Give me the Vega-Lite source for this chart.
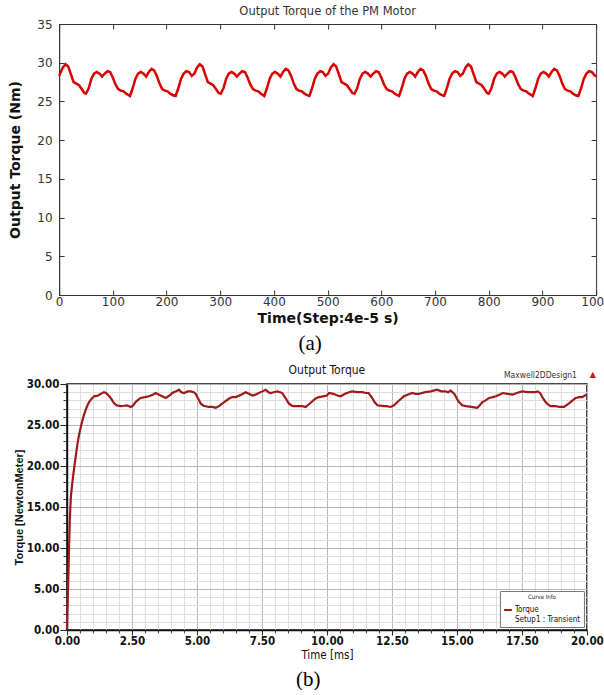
{
"$schema":"https://vega.github.io/schema/vega-lite/v6.json",
"background":"white",
"padding":{"left":8,"top":5,"right":0,"bottom":0},
"config":{"concat":{"spacing":9}},
"datasets":{
"a":[{"t":0,"v":28.3},{"t":2,"v":28.6},{"t":7,"v":29.4},{"t":12,"v":29.8},{"t":17,"v":29.5},{"t":22,"v":28.5},{"t":27,"v":27.5},{"t":32,"v":27.3},{"t":37,"v":27.1},{"t":42,"v":26.6},{"t":47,"v":26.1},
{"t":50,"v":26.0},{"t":55,"v":26.7},{"t":60,"v":27.9},{"t":65,"v":28.6},{"t":70,"v":28.8},{"t":75,"v":28.6},{"t":80,"v":28.2},{"t":85,"v":28.6},{"t":90,"v":28.9},{"t":95,"v":28.8},{"t":100,"v":28.1},{"t":105,"v":27.2},{"t":110,"v":26.6},{"t":115,"v":26.4},{"t":120,"v":26.3},{"t":125,"v":26.0},{"t":130,"v":25.8},
{"t":132,"v":25.7},{"t":137,"v":26.7},{"t":142,"v":27.9},{"t":147,"v":28.6},{"t":152,"v":28.8},{"t":157,"v":28.6},{"t":162,"v":28.2},{"t":167,"v":28.8},{"t":172,"v":29.2},{"t":177,"v":29.0},{"t":182,"v":28.3},{"t":187,"v":27.3},{"t":192,"v":26.6},{"t":197,"v":26.4},{"t":202,"v":26.3},{"t":207,"v":26.0},{"t":212,"v":25.8},
{"t":217,"v":25.7},{"t":222,"v":26.7},{"t":227,"v":27.9},{"t":232,"v":28.6},{"t":237,"v":28.9},{"t":242,"v":28.8},{"t":247,"v":28.3},{"t":252,"v":28.6},{"t":257,"v":29.4},{"t":262,"v":29.8},{"t":267,"v":29.5},{"t":272,"v":28.5},{"t":277,"v":27.5},{"t":282,"v":27.3},{"t":287,"v":27.1},{"t":292,"v":26.6},{"t":297,"v":26.1},
{"t":301,"v":26.0},{"t":306,"v":26.7},{"t":311,"v":27.9},{"t":316,"v":28.6},{"t":321,"v":28.8},{"t":326,"v":28.6},{"t":331,"v":28.2},{"t":336,"v":28.6},{"t":341,"v":28.9},{"t":346,"v":28.8},{"t":351,"v":28.1},{"t":356,"v":27.2},{"t":361,"v":26.6},{"t":366,"v":26.4},{"t":371,"v":26.3},{"t":376,"v":26.0},{"t":380,"v":25.8},
{"t":382,"v":25.7},{"t":387,"v":26.7},{"t":392,"v":27.9},{"t":397,"v":28.6},{"t":402,"v":28.8},{"t":407,"v":28.6},{"t":412,"v":28.2},{"t":417,"v":28.8},{"t":422,"v":29.2},{"t":427,"v":29.0},{"t":432,"v":28.3},{"t":437,"v":27.3},{"t":442,"v":26.6},{"t":447,"v":26.4},{"t":452,"v":26.3},{"t":457,"v":26.0},{"t":462,"v":25.8},
{"t":466,"v":25.7},{"t":471,"v":26.7},{"t":476,"v":27.9},{"t":481,"v":28.6},{"t":486,"v":28.9},{"t":491,"v":28.8},{"t":496,"v":28.3},{"t":501,"v":28.6},{"t":506,"v":29.4},{"t":511,"v":29.8},{"t":516,"v":29.5},{"t":521,"v":28.5},{"t":526,"v":27.5},{"t":531,"v":27.3},{"t":536,"v":27.1},{"t":541,"v":26.6},{"t":546,"v":26.1},
{"t":550,"v":26.0},{"t":555,"v":26.7},{"t":560,"v":27.9},{"t":565,"v":28.6},{"t":570,"v":28.8},{"t":575,"v":28.6},{"t":580,"v":28.2},{"t":585,"v":28.6},{"t":590,"v":28.9},{"t":595,"v":28.8},{"t":600,"v":28.1},{"t":605,"v":27.2},{"t":610,"v":26.6},{"t":615,"v":26.4},{"t":620,"v":26.3},{"t":625,"v":26.0},{"t":630,"v":25.8},
{"t":633,"v":25.7},{"t":638,"v":26.7},{"t":643,"v":27.9},{"t":648,"v":28.6},{"t":653,"v":28.8},{"t":658,"v":28.6},{"t":663,"v":28.2},{"t":668,"v":28.8},{"t":673,"v":29.2},{"t":678,"v":29.0},{"t":683,"v":28.3},{"t":688,"v":27.3},{"t":693,"v":26.6},{"t":698,"v":26.4},{"t":703,"v":26.3},{"t":708,"v":26.0},{"t":713,"v":25.8},
{"t":717,"v":25.7},{"t":722,"v":26.7},{"t":727,"v":27.9},{"t":732,"v":28.6},{"t":737,"v":28.9},{"t":742,"v":28.8},{"t":747,"v":28.3},{"t":752,"v":28.6},{"t":757,"v":29.4},{"t":762,"v":29.8},{"t":767,"v":29.5},{"t":772,"v":28.5},{"t":777,"v":27.5},{"t":782,"v":27.3},{"t":787,"v":27.1},{"t":792,"v":26.6},{"t":797,"v":26.1},
{"t":800,"v":26.0},{"t":805,"v":26.7},{"t":810,"v":27.9},{"t":815,"v":28.6},{"t":820,"v":28.8},{"t":825,"v":28.6},{"t":830,"v":28.2},{"t":835,"v":28.6},{"t":840,"v":28.9},{"t":845,"v":28.8},{"t":850,"v":28.1},{"t":855,"v":27.2},{"t":860,"v":26.6},{"t":865,"v":26.4},{"t":870,"v":26.3},{"t":875,"v":26.0},{"t":880,"v":25.8},
{"t":882,"v":25.7},{"t":887,"v":26.7},{"t":892,"v":27.9},{"t":897,"v":28.6},{"t":902,"v":28.8},{"t":907,"v":28.6},{"t":912,"v":28.2},{"t":917,"v":28.8},{"t":922,"v":29.2},{"t":927,"v":29.0},{"t":932,"v":28.3},{"t":937,"v":27.3},{"t":942,"v":26.6},{"t":947,"v":26.4},{"t":952,"v":26.3},{"t":957,"v":26.0},{"t":962,"v":25.8},
{"t":967,"v":25.7},{"t":972,"v":26.7},{"t":977,"v":27.9},{"t":982,"v":28.6},{"t":987,"v":28.9},{"t":992,"v":28.8},{"t":997,"v":28.4},{"t":1000,"v":28.2}],
"b":[{"t":0,"v":0},{"t":0.02,"v":2.5},{"t":0.05,"v":6},{"t":0.08,"v":10},{"t":0.11,"v":13.5},{"t":0.15,"v":16.2},{"t":0.2,"v":17.8},{"t":0.27,"v":19.6},{"t":0.33,"v":21},{"t":0.4,"v":22.6},{"t":0.46,"v":23.7},{"t":0.55,"v":25.0},{"t":0.65,"v":26.2},{"t":0.75,"v":27.1},{"t":0.85,"v":27.8},{"t":0.95,"v":28.2},{"t":1.05,"v":28.5},{"t":1.2,"v":28.6},{"t":1.3,"v":28.8},{"t":1.42,"v":29.0},{"t":1.5,"v":28.9},{"t":1.6,"v":28.6},{"t":1.7,"v":28.2},{"t":1.8,"v":27.7},{"t":1.9,"v":27.4},{"t":2.06,"v":27.3},{"t":2.2,"v":27.35},{"t":2.31,"v":27.4},{"t":2.45,"v":27.2},{"t":2.55,"v":27.4},{"t":2.64,"v":27.8},{"t":2.75,"v":28.1},{"t":2.83,"v":28.3},{"t":3.0,"v":28.4},{"t":3.15,"v":28.5},{"t":3.3,"v":28.7},{"t":3.41,"v":28.9},{"t":3.6,"v":28.6},{"t":3.8,"v":28.3},{"t":3.95,"v":28.6},{"t":4.05,"v":28.9},{"t":4.2,"v":29.1},{"t":4.31,"v":29.3},{"t":4.4,"v":29.0},{"t":4.5,"v":28.9},{"t":4.65,"v":29.1},{"t":4.76,"v":29.1},{"t":4.88,"v":29.0},{"t":4.95,"v":28.8},{"t":5.05,"v":28.2},{"t":5.15,"v":27.6},{"t":5.25,"v":27.35},{"t":5.46,"v":27.2},{"t":5.6,"v":27.2},{"t":5.72,"v":27.1},{"t":5.85,"v":27.3},{"t":5.97,"v":27.6},{"t":6.1,"v":27.9},{"t":6.23,"v":28.2},{"t":6.35,"v":28.4},{"t":6.49,"v":28.4},{"t":6.7,"v":28.7},{"t":6.87,"v":29.0},{"t":7.0,"v":28.8},{"t":7.13,"v":28.6},{"t":7.25,"v":28.7},{"t":7.38,"v":28.9},{"t":7.52,"v":29.1},{"t":7.64,"v":29.3},{"t":7.75,"v":29.0},{"t":7.83,"v":28.9},{"t":7.95,"v":29.0},{"t":8.09,"v":29.1},{"t":8.2,"v":29.0},{"t":8.28,"v":28.9},{"t":8.4,"v":28.3},{"t":8.54,"v":27.6},{"t":8.65,"v":27.35},{"t":8.73,"v":27.3},{"t":8.9,"v":27.3},{"t":9.05,"v":27.3},{"t":9.18,"v":27.2},{"t":9.3,"v":27.5},{"t":9.44,"v":27.9},{"t":9.55,"v":28.2},{"t":9.69,"v":28.4},{"t":9.85,"v":28.5},{"t":10.0,"v":28.6},{"t":10.08,"v":28.9},{"t":10.25,"v":28.8},{"t":10.4,"v":28.6},{"t":10.53,"v":28.5},{"t":10.7,"v":28.8},{"t":10.85,"v":29.0},{"t":10.97,"v":29.1},{"t":11.15,"v":29.0},{"t":11.36,"v":29.0},{"t":11.5,"v":28.9},{"t":11.6,"v":28.9},{"t":11.72,"v":28.4},{"t":11.83,"v":27.8},{"t":11.94,"v":27.4},{"t":12.19,"v":27.3},{"t":12.3,"v":27.3},{"t":12.45,"v":27.2},{"t":12.58,"v":27.4},{"t":12.71,"v":27.8},{"t":12.85,"v":28.2},{"t":12.96,"v":28.5},{"t":13.1,"v":28.7},{"t":13.28,"v":28.9},{"t":13.4,"v":28.8},{"t":13.54,"v":28.8},{"t":13.65,"v":28.9},{"t":13.79,"v":29.0},{"t":14.0,"v":29.1},{"t":14.24,"v":29.3},{"t":14.4,"v":29.1},{"t":14.56,"v":29.1},{"t":14.66,"v":29.0},{"t":14.76,"v":29.2},{"t":14.9,"v":28.8},{"t":15.0,"v":28.2},{"t":15.08,"v":27.8},{"t":15.2,"v":27.4},{"t":15.35,"v":27.3},{"t":15.55,"v":27.2},{"t":15.78,"v":27.1},{"t":15.88,"v":27.4},{"t":15.98,"v":27.8},{"t":16.1,"v":28.0},{"t":16.24,"v":28.3},{"t":16.38,"v":28.4},{"t":16.5,"v":28.5},{"t":16.63,"v":28.7},{"t":16.76,"v":28.9},{"t":16.95,"v":28.8},{"t":17.14,"v":28.7},{"t":17.3,"v":28.9},{"t":17.51,"v":29.1},{"t":17.7,"v":29.0},{"t":17.9,"v":29.0},{"t":18.0,"v":29.0},{"t":18.1,"v":29.1},{"t":18.2,"v":28.9},{"t":18.3,"v":28.3},{"t":18.41,"v":27.8},{"t":18.5,"v":27.5},{"t":18.6,"v":27.3},{"t":18.8,"v":27.3},{"t":18.95,"v":27.2},{"t":19.12,"v":27.2},{"t":19.2,"v":27.4},{"t":19.3,"v":27.6},{"t":19.45,"v":28.0},{"t":19.57,"v":28.3},{"t":19.7,"v":28.4},{"t":19.82,"v":28.4},{"t":19.92,"v":28.6},{"t":20.0,"v":28.7}]
},
"center":true,
"resolve":{"scale":{"color":"independent"},"legend":{"color":"independent"}},
"vconcat":[
 {
  "title":{"text":"(a)","orient":"bottom","font":"Liberation Serif","fontSize":21,"fontWeight":"normal","color":"#000","offset":7,"anchor":"middle"},
  "vconcat":[
   {
    "width":537,"height":271,
    "title":{"text":"Output Torque of the PM Motor","font":"DejaVu Sans","fontSize":11.5,"fontWeight":"normal","color":"#333","offset":1},
    "view":{"stroke":"#333","strokeWidth":1},
    "data":{"name":"a"},
    "layer":[
     {"mark":{"type":"line","color":"#d90000","strokeWidth":2.5},
      "encoding":{
       "x":{"field":"t","type":"quantitative","scale":{"domain":[0,1000],"nice":false},
        "axis":{"orient":"bottom","values":[0,100,200,300,400,500,600,700,800,900,1000],"format":"d","grid":false,"tickSize":-5,"tickColor":"#333","domainColor":"#333","labelFont":"DejaVu Sans","labelFontSize":12,"labelColor":"#333","labelPadding":6,"labelFlush":false,"labelOverlap":false,"title":"Time(Step:4e-5 s)","titleFont":"DejaVu Sans","titleFontSize":14,"titleFontWeight":"bold","titleColor":"#111","titlePadding":4}},
       "y":{"field":"v","type":"quantitative","scale":{"domain":[0,35],"nice":false},
        "axis":{"orient":"left","values":[0,5,10,15,20,25,30,35],"grid":false,"tickSize":-5,"tickColor":"#333","domainColor":"#333","labelFont":"DejaVu Sans","labelFontSize":12,"labelColor":"#333","labelPadding":12,"labelFlush":false,"labelOverlap":false,"title":"Output Torque (Nm)","titleFont":"DejaVu Sans","titleFontSize":14,"titleFontWeight":"bold","titleColor":"#111","titlePadding":14}}
      }},
     {"mark":{"type":"line","strokeOpacity":0},
      "encoding":{
       "x":{"field":"t","type":"quantitative","axis":{"orient":"top","values":[0,100,200,300,400,500,600,700,800,900,1000],"grid":false,"labels":false,"domain":false,"tickSize":-5,"tickColor":"#333","title":null}},
       "y":{"field":"v","type":"quantitative","axis":{"orient":"right","values":[0,5,10,15,20,25,30,35],"grid":false,"labels":false,"domain":false,"tickSize":-5,"tickColor":"#333","title":null}}
      }}
    ],
    "resolve":{"axis":{"x":"independent","y":"independent"}}
   }
  ]
 },
 {
  "title":{"text":"(b)","orient":"bottom","font":"Liberation Serif","fontSize":21,"fontWeight":"normal","color":"#000","offset":7,"anchor":"middle"},
  "resolve":{"scale":{"color":"independent"},"legend":{"color":"independent"}},
  "vconcat":[
   {
    "width":520,"height":246,
    "title":{"text":"Output Torque","font":"DejaVu Sans Condensed, Liberation Sans, sans-serif","fontSize":12,"fontWeight":"normal","color":"#111","offset":-6},
    "view":{"stroke":"#111","strokeWidth":1.5},
    "data":{"name":"b"},
    "layer":[
     {"mark":{"type":"line","strokeOpacity":0},
      "encoding":{
       "x":{"field":"t","type":"quantitative","scale":{"domain":[0,20],"nice":false},
        "axis":{"orient":"bottom","values":[0.5,1,1.5,2,3,3.5,4,4.5,5.5,6,6.5,7,8,8.5,9,9.5,10.5,11,11.5,12,13,13.5,14,14.5,15.5,16,16.5,17,18,18.5,19,19.5],"grid":true,"gridColor":"#dedede","labels":false,"domain":false,"tickSize":3,"tickColor":"#444","title":null}},
       "y":{"field":"v","type":"quantitative","scale":{"domain":[0,30],"nice":false},
        "axis":{"orient":"left","values":[1,2,3,4,6,7,8,9,11,12,13,14,16,17,18,19,21,22,23,24,26,27,28,29],"grid":true,"gridColor":"#dedede","labels":false,"domain":false,"tickSize":4,"tickColor":"#444","title":null}}
      }},
     {"mark":{"type":"line","strokeWidth":2.2},
      "encoding":{
       "x":{"field":"t","type":"quantitative",
        "axis":{"orient":"bottom","values":[0,2.5,5,7.5,10,12.5,15,17.5,20],"format":".2f","grid":true,"gridColor":"#b5b5b5","tickSize":5,"tickColor":"#222","domainColor":"#111","domainWidth":1.5,"labelFont":"DejaVu Sans Condensed, Liberation Sans, sans-serif","labelFontSize":11.5,"labelFontWeight":"bold","labelColor":"#111","labelPadding":0,"labelFlush":false,"labelOverlap":false,"title":"Time [ms]","titleFont":"DejaVu Sans Condensed, Liberation Sans, sans-serif","titleFontSize":11.5,"titleFontWeight":"normal","titleColor":"#111","titlePadding":3}},
       "y":{"field":"v","type":"quantitative",
        "axis":{"orient":"left","values":[0,5,10,15,20,25,30],"format":".2f","grid":true,"gridColor":"#b5b5b5","tickSize":7,"tickColor":"#222","domainColor":"#111","domainWidth":1.5,"labelFont":"DejaVu Sans Condensed, Liberation Sans, sans-serif","labelFontSize":11.5,"labelFontWeight":"bold","labelColor":"#111","labelPadding":1,"labelFlush":false,"labelOverlap":false,"title":"Torque [NewtonMeter]","titleFont":"Liberation Sans","titleFontSize":11,"titleFontWeight":"bold","titleColor":"#111","titlePadding":2}},
       "color":{"datum":"Torque","type":"nominal","scale":{"range":["#9e1a1a"]},
        "legend":{"orient":"bottom-right","offset":3,"title":"Curve Info","titleFont":"DejaVu Sans Condensed, Liberation Sans, sans-serif","titleFontSize":6,"titleFontWeight":"normal","titleAnchor":"middle","titleColor":"#222","titlePadding":5,"labelFont":"DejaVu Sans Condensed, Liberation Sans, sans-serif","labelFontSize":8,"labelColor":"#111","labelOffset":2,"labelExpr":"['Torque', 'Setup1 : Transient']","symbolType":"stroke","symbolStrokeWidth":2,"symbolSize":60,"fillColor":"white","strokeColor":"#777","padding":3}}
      }},
     {"data":{"values":[{}]},
      "mark":{"type":"text","align":"right","baseline":"bottom","dx":-10,"dy":-4,"font":"DejaVu Sans Condensed, Liberation Sans, sans-serif","fontSize":8.5,"color":"#333"},
      "encoding":{"x":{"datum":20,"type":"quantitative","axis":null},"y":{"datum":30,"type":"quantitative","axis":null},"text":{"value":"Maxwell2DDesign1"}}},
     {"data":{"values":[{}]},
      "mark":{"type":"text","align":"center","baseline":"bottom","dx":6,"dy":-5,"font":"DejaVu Sans","fontSize":8,"color":"#c02020"},
      "encoding":{"x":{"datum":20,"type":"quantitative","axis":null},"y":{"datum":30,"type":"quantitative","axis":null},"text":{"value":"▲"}}}
    ],
    "resolve":{"axis":{"x":"independent","y":"independent"}}
   }
  ]
 }
]
}
